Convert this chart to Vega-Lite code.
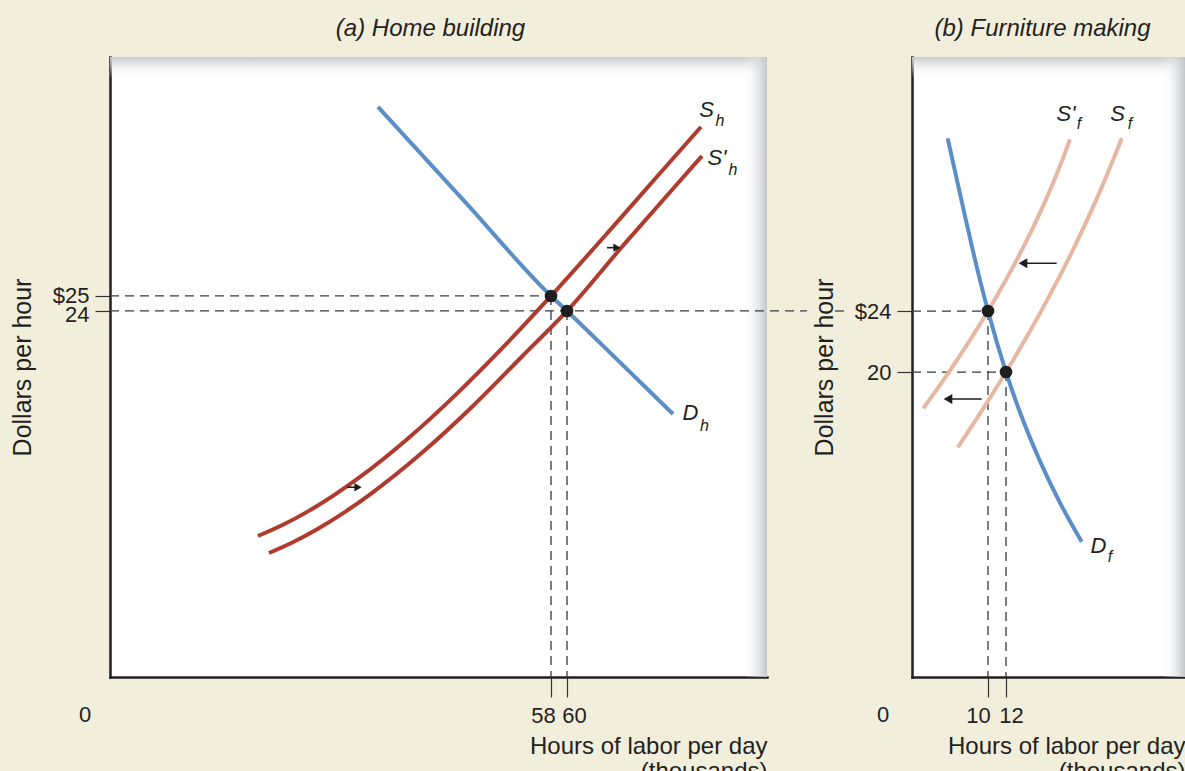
{
  "$schema": "https://vega.github.io/schema/vega-lite/v6.json",
  "background": "#f2eedc",
  "padding": {"left": 10, "top": 17, "right": 0, "bottom": 0},
  "autosize": {"type": "pad"},
  "bounds": "flush",
  "spacing": 145,
  "config": {
    "view": {"fill": "white", "stroke": null},
    "font": "Liberation Sans",
    "axis": {
      "grid": false,
      "domainColor": "#231f20",
      "domainWidth": 2.5,
      "domainCap": "square",
      "tickColor": "#333333",
      "tickWidth": 1.2,
      "labelColor": "#231f20",
      "titleColor": "#231f20",
      "labelFontSize": 22,
      "titleFontSize": 24,
      "titleFontWeight": "normal",
      "labelFlush": false,
      "labelOverlap": false,
      "labelBound": false,
      "zindex": 1
    },
    "axisLeft": {"titleFontSize": 25},
    "title": {"fontSize": 24, "fontStyle": "italic", "fontWeight": "normal", "color": "#231f20", "frame": "group", "baseline": "alphabetic", "offset": 16}
  },
  "datasets": {
    "curvesA": [
      {"s": "Dh", "x": 36.375, "y": 37.6},
      {"s": "Dh", "x": 47.25, "y": 31.27},
      {"s": "Dh", "x": 58, "y": 25},
      {"s": "Dh", "x": 60, "y": 24},
      {"s": "Dh", "x": 66.625, "y": 20.57},
      {"s": "Dh", "x": 73.25, "y": 17.13},
      {"s": "Sh", "x": 21.375, "y": 9.0},
      {"s": "Sh", "x": 24.5, "y": 9.747},
      {"s": "Sh", "x": 27.625, "y": 10.64},
      {"s": "Sh", "x": 30.75, "y": 11.673},
      {"s": "Sh", "x": 33.875, "y": 12.833},
      {"s": "Sh", "x": 40.125, "y": 15.5},
      {"s": "Sh", "x": 46.375, "y": 18.56},
      {"s": "Sh", "x": 52.625, "y": 21.92},
      {"s": "Sh", "x": 58, "y": 25},
      {"s": "Sh", "x": 65.125, "y": 29.24},
      {"s": "Sh", "x": 71.375, "y": 33.03},
      {"s": "Sh", "x": 76.75, "y": 36.27},
      {"s": "Sh2", "x": 22.75, "y": 7.867},
      {"s": "Sh2", "x": 25.6, "y": 8.553},
      {"s": "Sh2", "x": 28.875, "y": 9.487},
      {"s": "Sh2", "x": 32.125, "y": 10.56},
      {"s": "Sh2", "x": 35.35, "y": 11.76},
      {"s": "Sh2", "x": 41.76, "y": 14.493},
      {"s": "Sh2", "x": 48.11, "y": 17.6},
      {"s": "Sh2", "x": 54.44, "y": 21.0},
      {"s": "Sh2", "x": 60, "y": 24},
      {"s": "Sh2", "x": 67.0, "y": 28.353},
      {"s": "Sh2", "x": 73.25, "y": 32.147},
      {"s": "Sh2", "x": 76.875, "y": 34.333}
    ],
    "curvesB": [
      {"s": "Df", "x": 5.522, "y": 35.325},
      {"s": "Df", "x": 6.511, "y": 32.7},
      {"s": "Df", "x": 7.5, "y": 30.08},
      {"s": "Df", "x": 8.522, "y": 27.456},
      {"s": "Df", "x": 10, "y": 24},
      {"s": "Df", "x": 12, "y": 20},
      {"s": "Df", "x": 14.022, "y": 16.636},
      {"s": "Df", "x": 15.889, "y": 14.013},
      {"s": "Df", "x": 18.033, "y": 11.39},
      {"s": "Df", "x": 20.41, "y": 8.872},
      {"s": "Sf2", "x": 2.81, "y": 17.62},
      {"s": "Sf2", "x": 5.944, "y": 20.24},
      {"s": "Sf2", "x": 10, "y": 24},
      {"s": "Sf2", "x": 12.99, "y": 27.13},
      {"s": "Sf2", "x": 16.0, "y": 30.73},
      {"s": "Sf2", "x": 17.9, "y": 33.36},
      {"s": "Sf2", "x": 19.11, "y": 35.26},
      {"s": "Sf", "x": 6.633, "y": 15.06},
      {"s": "Sf", "x": 9.556, "y": 17.685},
      {"s": "Sf", "x": 12, "y": 20},
      {"s": "Sf", "x": 16.133, "y": 24.243},
      {"s": "Sf", "x": 19.578, "y": 28.177},
      {"s": "Sf", "x": 22.633, "y": 32.11},
      {"s": "Sf", "x": 24.856, "y": 35.325}
    ],
    "rulesA": [
      {"x": 2.875, "x2": 58, "y": 25, "y2": 25},
      {"x": 2.875, "x2": 90.0, "y": 24, "y2": 24},
      {"x": 93.5, "x2": 95.125, "y": 24, "y2": 24},
      {"x": 58, "x2": 58, "y": 25, "y2": -0.4},
      {"x": 60, "x2": 60, "y": 24, "y2": -0.4}
    ],
    "rulesB": [
      {"x": 1.556, "x2": 10, "y": 24, "y2": 24},
      {"x": 1.556, "x2": 12, "y": 20, "y2": 20},
      {"x": 10, "x2": 10, "y": 24, "y2": 0},
      {"x": 12, "x2": 12, "y": 20, "y2": 0}
    ],
    "dotsA": [{"x": 58, "y": 25}, {"x": 60, "y": 24}],
    "dotsB": [{"x": 10, "y": 24}, {"x": 12, "y": 20}],
    "arrowsA": [
      {"x": 32.5, "x2": 33.875, "y": 12.25},
      {"x": 65.0, "x2": 66.25, "y": 28.22}
    ],
    "arrowsB": [
      {"x": 17.63, "x2": 13.89, "y": 27.13},
      {"x": 9.3, "x2": 5.556, "y": 18.23}
    ],
    "labelsA": [
      {"t": "S", "k": "m", "x": 77.44, "y": 37.43},
      {"t": "h", "k": "s", "x": 79.125, "y": 36.67},
      {"t": "S'", "k": "m", "x": 78.75, "y": 34.2},
      {"t": "h", "k": "s", "x": 80.75, "y": 33.4},
      {"t": "D", "k": "m", "x": 75.44, "y": 17.17},
      {"t": "h", "k": "s", "x": 77.19, "y": 16.33}
    ],
    "labelsB": [
      {"t": "S'", "k": "m", "x": 18.67, "y": 36.95},
      {"t": "f", "k": "s", "x": 20.11, "y": 36.26},
      {"t": "S", "k": "m", "x": 24.39, "y": 36.95},
      {"t": "f", "k": "s", "x": 25.78, "y": 36.26},
      {"t": "D", "k": "m", "x": 22.28, "y": 8.56},
      {"t": "f", "k": "s", "x": 23.56, "y": 7.87}
    ]
  },
  "hconcat": [
    {
      "width": 657,
      "height": 620,
      "title": {"text": "(a) Home building", "dx": -8},
      "layer": [
        {
          "data": {"values": [{}]},
          "mark": {"type": "rect", "fill": {"gradient": "linear", "x1": 0, "y1": 0, "x2": 0, "y2": 1, "stops": [{"offset": 0, "color": "#c9cace"}, {"offset": 1, "color": "rgba(255,255,255,0)"}]}},
          "encoding": {
            "x": {"datum": 2.875, "type": "quantitative", "scale": {"domain": [2.875, 85], "nice": false, "zero": false},
              "axis": {"values": [58, 60], "format": "d", "title": ["Hours of labor per day", "(thousands)"], "titleAnchor": "end", "titleAlign": "right", "titleLineHeight": 25, "titlePadding": 8, "tickSize": 20, "labelPadding": 8,
                "labelOffset": {"condition": {"test": "datum.value == 58", "value": -8}, "value": 7}}},
            "x2": {"datum": 85},
            "y": {"datum": 40.93, "type": "quantitative", "scale": {"domain": [-0.4, 40.93], "nice": false, "zero": false},
              "axis": {"values": [24, 25], "labelExpr": "datum.value == 25 ? '$25' : '24'", "title": "Dollars per hour", "titlePadding": 17, "tickSize": 15, "labelPadding": 6,
                "labelOffset": {"condition": {"test": "datum.value == 24", "value": 4}, "value": 0}}},
            "y2": {"datum": 39.53}
          }
        },
        {
          "data": {"values": [{}]},
          "mark": {"type": "rect", "fill": {"gradient": "linear", "x1": 0, "y1": 0, "x2": 1, "y2": 0, "stops": [{"offset": 0, "color": "rgba(255,255,255,0)"}, {"offset": 1, "color": "#c3c5c9"}]}},
          "encoding": {
            "x": {"datum": 82.0, "type": "quantitative"},
            "x2": {"datum": 85},
            "y": {"datum": 40.93, "type": "quantitative"},
            "y2": {"datum": -0.4}
          }
        },
        {
          "data": {"name": "rulesA"},
          "mark": {"type": "rule", "strokeDash": [9, 6], "color": "#3a3a3a", "strokeWidth": 1.3, "clip": false},
          "encoding": {
            "x": {"field": "x", "type": "quantitative"},
            "x2": {"field": "x2"},
            "y": {"field": "y", "type": "quantitative"},
            "y2": {"field": "y2"}
          }
        },
        {
          "data": {"name": "curvesA"},
          "mark": {"type": "line", "interpolate": "monotone", "strokeWidth": 4, "strokeCap": "butt"},
          "encoding": {
            "x": {"field": "x", "type": "quantitative"},
            "y": {"field": "y", "type": "quantitative"},
            "color": {"field": "s", "type": "nominal", "scale": {"domain": ["Dh", "Sh", "Sh2", "Df", "Sf", "Sf2"], "range": ["#5b8ec6", "#b03a2d", "#b03a2d", "#5b8ec6", "#e6b7a2", "#e6b7a2"]}, "legend": null}
          }
        },
        {
          "data": {"name": "dotsA"},
          "mark": {"type": "point", "filled": true, "size": 160, "color": "#1e1e1e", "opacity": 1},
          "encoding": {
            "x": {"field": "x", "type": "quantitative"},
            "y": {"field": "y", "type": "quantitative"}
          }
        },
        {
          "data": {"name": "arrowsA"},
          "mark": {"type": "rule", "color": "#1e1e1e", "strokeWidth": 1.6},
          "encoding": {
            "x": {"field": "x", "type": "quantitative"},
            "x2": {"field": "x2"},
            "y": {"field": "y", "type": "quantitative"}
          }
        },
        {
          "data": {"name": "arrowsA"},
          "mark": {"type": "point", "shape": "triangle-right", "filled": true, "size": 70, "color": "#1e1e1e", "opacity": 1},
          "encoding": {
            "x": {"field": "x2", "type": "quantitative"},
            "y": {"field": "y", "type": "quantitative"}
          }
        },
        {
          "data": {"name": "labelsA"},
          "transform": [{"filter": "datum.k == 'm'"}],
          "mark": {"type": "text", "fontSize": 22, "fontStyle": "italic", "color": "#231f20", "align": "center", "baseline": "middle"},
          "encoding": {
            "x": {"field": "x", "type": "quantitative"},
            "y": {"field": "y", "type": "quantitative"},
            "text": {"field": "t"}
          }
        },
        {
          "data": {"name": "labelsA"},
          "transform": [{"filter": "datum.k == 's'"}],
          "mark": {"type": "text", "fontSize": 16, "fontStyle": "italic", "color": "#231f20", "align": "center", "baseline": "middle"},
          "encoding": {
            "x": {"field": "x", "type": "quantitative"},
            "y": {"field": "y", "type": "quantitative"},
            "text": {"field": "t"}
          }
        },
        {
          "data": {"values": [{}]},
          "mark": {"type": "text", "text": "0", "fontSize": 22, "color": "#231f20", "align": "center", "baseline": "middle", "dx": -25, "dy": 38},
          "encoding": {
            "x": {"datum": 2.875, "type": "quantitative"},
            "y": {"datum": -0.4, "type": "quantitative"}
          }
        }
      ]
    },
    {
      "width": 273,
      "height": 620,
      "title": {"text": "(b) Furniture making", "dx": -6},
      "layer": [
        {
          "data": {"values": [{}]},
          "mark": {"type": "rect", "fill": {"gradient": "linear", "x1": 0, "y1": 0, "x2": 0, "y2": 1, "stops": [{"offset": 0, "color": "#c9cace"}, {"offset": 1, "color": "rgba(255,255,255,0)"}]}},
          "encoding": {
            "x": {"datum": 1.556, "type": "quantitative", "scale": {"domain": [1.556, 31.889], "nice": false, "zero": false},
              "axis": {"values": [10, 12], "format": "d", "title": ["Hours of labor per day", "(thousands)"], "titleAnchor": "end", "titleAlign": "right", "titleLineHeight": 25, "titlePadding": 8, "tickSize": 20, "labelPadding": 8,
                "labelOffset": {"condition": {"test": "datum.value == 10", "value": -10}, "value": 5}}},
            "x2": {"datum": 31.889},
            "y": {"datum": 40.66, "type": "quantitative", "scale": {"domain": [0, 40.66], "nice": false, "zero": false},
              "axis": {"values": [20, 24], "labelExpr": "datum.value == 24 ? '$24' : '20'", "title": "Dollars per hour", "titlePadding": 17, "tickSize": 15, "labelPadding": 6}},
            "y2": {"datum": 39.28}
          }
        },
        {
          "data": {"values": [{}]},
          "mark": {"type": "rect", "fill": {"gradient": "linear", "x1": 0, "y1": 0, "x2": 1, "y2": 0, "stops": [{"offset": 0, "color": "rgba(255,255,255,0)"}, {"offset": 1, "color": "#c3c5c9"}]}},
          "encoding": {
            "x": {"datum": 29.33, "type": "quantitative"},
            "x2": {"datum": 31.889},
            "y": {"datum": 40.66, "type": "quantitative"},
            "y2": {"datum": 0}
          }
        },
        {
          "data": {"name": "rulesB"},
          "mark": {"type": "rule", "strokeDash": [9, 6], "color": "#3a3a3a", "strokeWidth": 1.3, "clip": false},
          "encoding": {
            "x": {"field": "x", "type": "quantitative"},
            "x2": {"field": "x2"},
            "y": {"field": "y", "type": "quantitative"},
            "y2": {"field": "y2"}
          }
        },
        {
          "data": {"name": "curvesB"},
          "mark": {"type": "line", "interpolate": "monotone", "strokeWidth": 4, "strokeCap": "butt"},
          "encoding": {
            "x": {"field": "x", "type": "quantitative"},
            "y": {"field": "y", "type": "quantitative"},
            "color": {"field": "s", "type": "nominal", "scale": {"domain": ["Dh", "Sh", "Sh2", "Df", "Sf", "Sf2"], "range": ["#5b8ec6", "#b03a2d", "#b03a2d", "#5b8ec6", "#e6b7a2", "#e6b7a2"]}, "legend": null}
          }
        },
        {
          "data": {"name": "dotsB"},
          "mark": {"type": "point", "filled": true, "size": 160, "color": "#1e1e1e", "opacity": 1},
          "encoding": {
            "x": {"field": "x", "type": "quantitative"},
            "y": {"field": "y", "type": "quantitative"}
          }
        },
        {
          "data": {"name": "arrowsB"},
          "mark": {"type": "rule", "color": "#1e1e1e", "strokeWidth": 1.6},
          "encoding": {
            "x": {"field": "x", "type": "quantitative"},
            "x2": {"field": "x2"},
            "y": {"field": "y", "type": "quantitative"}
          }
        },
        {
          "data": {"name": "arrowsB"},
          "mark": {"type": "point", "shape": "triangle-left", "filled": true, "size": 100, "color": "#1e1e1e", "opacity": 1},
          "encoding": {
            "x": {"field": "x2", "type": "quantitative"},
            "y": {"field": "y", "type": "quantitative"}
          }
        },
        {
          "data": {"name": "labelsB"},
          "transform": [{"filter": "datum.k == 'm'"}],
          "mark": {"type": "text", "fontSize": 22, "fontStyle": "italic", "color": "#231f20", "align": "center", "baseline": "middle"},
          "encoding": {
            "x": {"field": "x", "type": "quantitative"},
            "y": {"field": "y", "type": "quantitative"},
            "text": {"field": "t"}
          }
        },
        {
          "data": {"name": "labelsB"},
          "transform": [{"filter": "datum.k == 's'"}],
          "mark": {"type": "text", "fontSize": 16, "fontStyle": "italic", "color": "#231f20", "align": "center", "baseline": "middle"},
          "encoding": {
            "x": {"field": "x", "type": "quantitative"},
            "y": {"field": "y", "type": "quantitative"},
            "text": {"field": "t"}
          }
        },
        {
          "data": {"values": [{}]},
          "mark": {"type": "text", "text": "0", "fontSize": 22, "color": "#231f20", "align": "center", "baseline": "middle", "dx": -29, "dy": 38},
          "encoding": {
            "x": {"datum": 1.556, "type": "quantitative"},
            "y": {"datum": 0, "type": "quantitative"}
          }
        }
      ]
    }
  ]
}
